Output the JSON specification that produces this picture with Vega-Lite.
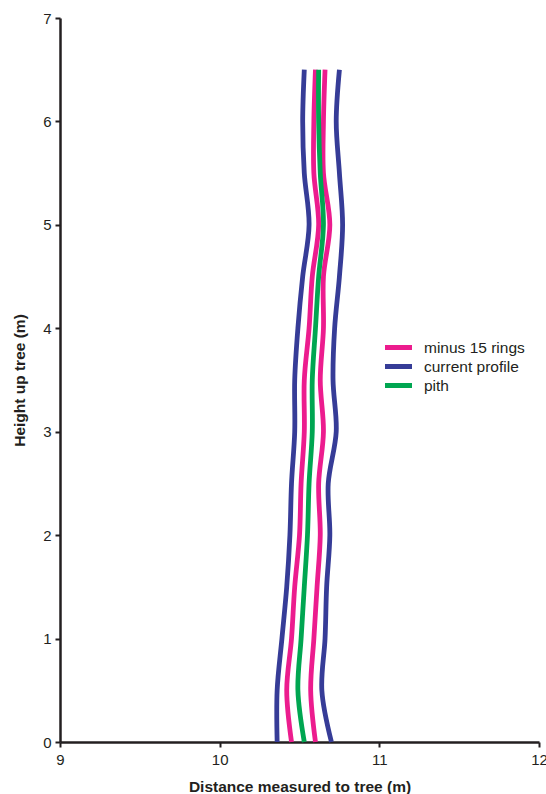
{
  "$schema": "https://vega.github.io/schema/vega-lite/v6.json",
  "autosize": {"type": "none"},
  "padding": {"left": 60, "top": 18, "right": 7, "bottom": 52},
  "width": 479,
  "height": 724,
  "background": "white",
  "config": {
    "view": {"stroke": null},
    "font": "Liberation Sans",
    "axis": {
      "grid": false,
      "labelFlush": false,
      "domainColor": "#231F20",
      "domainWidth": 2.5,
      "tickColor": "#231F20",
      "tickWidth": 2,
      "tickSize": 5,
      "labelColor": "#231F20",
      "labelFont": "Liberation Sans",
      "labelFontSize": 15,
      "titleColor": "#231F20",
      "titleFont": "Liberation Sans",
      "titleFontSize": 15.5,
      "titleFontWeight": "bold"
    }
  },
  "data": {
    "values": [
      {"profile": "current profile", "side": "left", "height": 0, "distance": 10.36},
      {"profile": "current profile", "side": "left", "height": 0.5, "distance": 10.36},
      {"profile": "current profile", "side": "left", "height": 1, "distance": 10.39},
      {"profile": "current profile", "side": "left", "height": 1.5, "distance": 10.42},
      {"profile": "current profile", "side": "left", "height": 2, "distance": 10.44},
      {"profile": "current profile", "side": "left", "height": 2.5, "distance": 10.45},
      {"profile": "current profile", "side": "left", "height": 3, "distance": 10.47},
      {"profile": "current profile", "side": "left", "height": 3.5, "distance": 10.47},
      {"profile": "current profile", "side": "left", "height": 4, "distance": 10.49},
      {"profile": "current profile", "side": "left", "height": 4.5, "distance": 10.52},
      {"profile": "current profile", "side": "left", "height": 5, "distance": 10.56},
      {"profile": "current profile", "side": "left", "height": 5.5, "distance": 10.53},
      {"profile": "current profile", "side": "left", "height": 6, "distance": 10.52},
      {"profile": "current profile", "side": "left", "height": 6.5, "distance": 10.53},
      {"profile": "current profile", "side": "right", "height": 0, "distance": 10.70},
      {"profile": "current profile", "side": "right", "height": 0.5, "distance": 10.64},
      {"profile": "current profile", "side": "right", "height": 1, "distance": 10.66},
      {"profile": "current profile", "side": "right", "height": 1.5, "distance": 10.67},
      {"profile": "current profile", "side": "right", "height": 2, "distance": 10.69},
      {"profile": "current profile", "side": "right", "height": 2.5, "distance": 10.68},
      {"profile": "current profile", "side": "right", "height": 3, "distance": 10.73},
      {"profile": "current profile", "side": "right", "height": 3.5, "distance": 10.71},
      {"profile": "current profile", "side": "right", "height": 4, "distance": 10.72},
      {"profile": "current profile", "side": "right", "height": 4.5, "distance": 10.75},
      {"profile": "current profile", "side": "right", "height": 5, "distance": 10.77},
      {"profile": "current profile", "side": "right", "height": 5.5, "distance": 10.75},
      {"profile": "current profile", "side": "right", "height": 6, "distance": 10.73},
      {"profile": "current profile", "side": "right", "height": 6.5, "distance": 10.75},
      {"profile": "minus 15 rings", "side": "left", "height": 0, "distance": 10.45},
      {"profile": "minus 15 rings", "side": "left", "height": 0.5, "distance": 10.42},
      {"profile": "minus 15 rings", "side": "left", "height": 1, "distance": 10.45},
      {"profile": "minus 15 rings", "side": "left", "height": 1.5, "distance": 10.47},
      {"profile": "minus 15 rings", "side": "left", "height": 2, "distance": 10.50},
      {"profile": "minus 15 rings", "side": "left", "height": 2.5, "distance": 10.51},
      {"profile": "minus 15 rings", "side": "left", "height": 3, "distance": 10.53},
      {"profile": "minus 15 rings", "side": "left", "height": 3.5, "distance": 10.53},
      {"profile": "minus 15 rings", "side": "left", "height": 4, "distance": 10.56},
      {"profile": "minus 15 rings", "side": "left", "height": 4.5, "distance": 10.58},
      {"profile": "minus 15 rings", "side": "left", "height": 5, "distance": 10.62},
      {"profile": "minus 15 rings", "side": "left", "height": 5.5, "distance": 10.59},
      {"profile": "minus 15 rings", "side": "left", "height": 6, "distance": 10.59},
      {"profile": "minus 15 rings", "side": "left", "height": 6.5, "distance": 10.60},
      {"profile": "minus 15 rings", "side": "right", "height": 0, "distance": 10.60},
      {"profile": "minus 15 rings", "side": "right", "height": 0.5, "distance": 10.57},
      {"profile": "minus 15 rings", "side": "right", "height": 1, "distance": 10.59},
      {"profile": "minus 15 rings", "side": "right", "height": 1.5, "distance": 10.61},
      {"profile": "minus 15 rings", "side": "right", "height": 2, "distance": 10.63},
      {"profile": "minus 15 rings", "side": "right", "height": 2.5, "distance": 10.62},
      {"profile": "minus 15 rings", "side": "right", "height": 3, "distance": 10.65},
      {"profile": "minus 15 rings", "side": "right", "height": 3.5, "distance": 10.63},
      {"profile": "minus 15 rings", "side": "right", "height": 4, "distance": 10.65},
      {"profile": "minus 15 rings", "side": "right", "height": 4.5, "distance": 10.65},
      {"profile": "minus 15 rings", "side": "right", "height": 5, "distance": 10.69},
      {"profile": "minus 15 rings", "side": "right", "height": 5.5, "distance": 10.65},
      {"profile": "minus 15 rings", "side": "right", "height": 6, "distance": 10.65},
      {"profile": "minus 15 rings", "side": "right", "height": 6.5, "distance": 10.66},
      {"profile": "pith", "side": "centre", "height": 0, "distance": 10.53},
      {"profile": "pith", "side": "centre", "height": 0.5, "distance": 10.49},
      {"profile": "pith", "side": "centre", "height": 1, "distance": 10.51},
      {"profile": "pith", "side": "centre", "height": 1.5, "distance": 10.53},
      {"profile": "pith", "side": "centre", "height": 2, "distance": 10.55},
      {"profile": "pith", "side": "centre", "height": 2.5, "distance": 10.56},
      {"profile": "pith", "side": "centre", "height": 3, "distance": 10.58},
      {"profile": "pith", "side": "centre", "height": 3.5, "distance": 10.58},
      {"profile": "pith", "side": "centre", "height": 4, "distance": 10.60},
      {"profile": "pith", "side": "centre", "height": 4.5, "distance": 10.62},
      {"profile": "pith", "side": "centre", "height": 5, "distance": 10.65},
      {"profile": "pith", "side": "centre", "height": 5.5, "distance": 10.63},
      {"profile": "pith", "side": "centre", "height": 6, "distance": 10.62},
      {"profile": "pith", "side": "centre", "height": 6.5, "distance": 10.62}
    ]
  },
  "mark": {"type": "line", "interpolate": "catmull-rom", "strokeWidth": 4.8},
  "encoding": {
    "x": {
      "field": "distance",
      "type": "quantitative",
      "scale": {"domain": [9, 12], "nice": false, "zero": false},
      "axis": {"values": [9, 10, 11, 12], "title": "Distance measured to tree (m)", "labelPadding": 5, "titlePadding": 12}
    },
    "y": {
      "field": "height",
      "type": "quantitative",
      "scale": {"domain": [0, 7], "nice": false},
      "axis": {"values": [0, 1, 2, 3, 4, 5, 6, 7], "title": "Height up tree (m)", "labelPadding": 4, "titlePadding": 15}
    },
    "order": {"field": "height", "type": "quantitative"},
    "detail": {"field": "side", "type": "nominal"},
    "color": {
      "field": "profile",
      "type": "nominal",
      "scale": {
        "domain": ["minus 15 rings", "current profile", "pith"],
        "range": ["#EC1C8E", "#363C97", "#00A651"]
      },
      "legend": {
        "title": null,
        "orient": "none",
        "legendX": 330,
        "legendY": 321,
        "padding": 0,
        "rowPadding": -4,
        "symbolType": "M-2.25,0H2.25",
        "symbolSize": 144,
        "symbolStrokeWidth": 5,
        "labelOffset": 17,
        "labelFont": "Liberation Sans",
        "labelFontSize": 15.5,
        "labelColor": "#231F20"
      }
    }
  }
}
